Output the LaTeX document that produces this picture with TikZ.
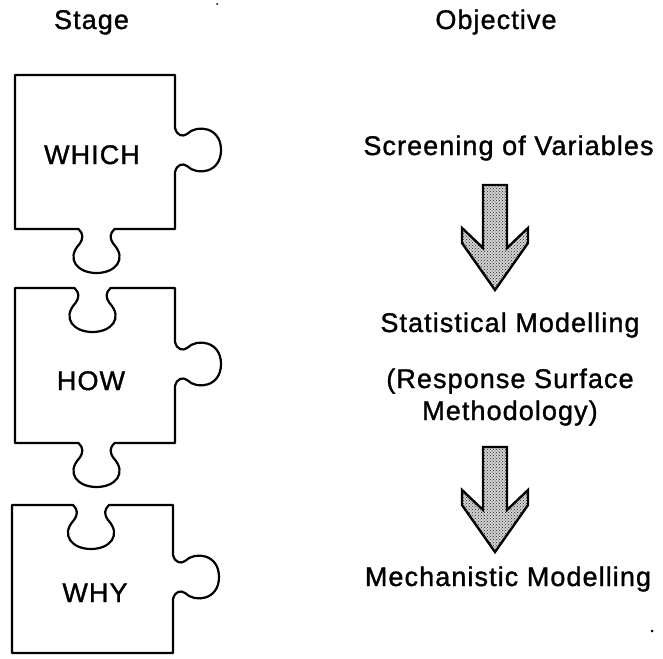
\documentclass[tikz,border=0pt]{standalone}
\usepackage{fontspec}
\setmainfont{Liberation Sans}[LetterSpace=4, FakeBold=1.2]
\usetikzlibrary{patterns}
\newcommand\rknob[2]{-- (#1,#2-22) .. controls (#1+2,#2-14) and (#1+8,#2-13) .. (#1+12,#2-16) .. controls (#1+22,#2-26) and (#1+46,#2-23) .. (#1+46,#2) .. controls (#1+46,#2+23) and (#1+22,#2+26) .. (#1+12,#2+16) .. controls (#1+8,#2+13) and (#1+2,#2+14) .. (#1,#2+22)}
\newcommand\bknob[2]{-- (#2+18,#1) .. controls (#2+13,#1+5) and (#2+13,#1+9) .. (#2+17,#1+15) .. controls (#2+31,#1+30) and (#2+19,#1+44) .. (#2,#1+44) .. controls (#2-19,#1+44) and (#2-31,#1+30) .. (#2-17,#1+15) .. controls (#2-13,#1+9) and (#2-13,#1+5) .. (#2-18,#1)}
\newcommand\tnotch[2]{-- (#2-18,#1) .. controls (#2-13,#1+5) and (#2-13,#1+9) .. (#2-17,#1+15) .. controls (#2-31,#1+30) and (#2-19,#1+44) .. (#2,#1+44) .. controls (#2+19,#1+44) and (#2+31,#1+30) .. (#2+17,#1+15) .. controls (#2+13,#1+9) and (#2+13,#1+5) .. (#2+18,#1)}
\tikzset{
  piece/.style={draw=black, line width=2.2pt, line join=round},
  blockarrow/.style={draw=black, line width=2.4pt, line join=miter, fill=gray!35, postaction={pattern=crosshatch dots, pattern color=black!85}},
  lbl/.style={anchor=base, inner sep=0pt, font=\fontsize{27}{31}\selectfont},
}
\begin{document}
\begin{tikzpicture}[x=1pt, y=-1pt]
\useasboundingbox (0,0) rectangle (663,658);
% headings
\node[lbl] (stage) at (91.5,29) {Stage};
\node[lbl] (objective) at (496,29) {Objective};
% puzzle pieces
\draw[piece] (15,75) -- (175,75) \rknob{175}{150} -- (175,229) \bknob{229}{96.5} -- (15,229) -- cycle;
\draw[piece] (15,288) \tnotch{288}{92.5} -- (175,288) \rknob{175}{364} -- (175,443) \bknob{443}{96.5} -- (15,443) -- cycle;
\draw[piece] (12,505) \tnotch{505}{91} -- (173,505) \rknob{173}{577} -- (173,653) -- (12,653) -- cycle;
\node[lbl] (which) at (92,164) {WHICH};
\node[lbl] (how) at (91,390) {HOW};
\node[lbl] (why) at (95,602) {WHY};
% objectives
\node[lbl] (screen) at (508.5,155) {Screening of Variables};
\node[lbl] (stat) at (510,332) {Statistical Modelling};
\node[lbl] (resp) at (510,388) {(Response Surface};
\node[lbl] (meth) at (510,420) {Methodology)};
\node[lbl] (mech) at (508,586) {Mechanistic Modelling};
% block arrows
\draw[blockarrow] (483,185) -- (507,185) -- (507,248) -- (528,228) -- (528,243) -- (495,290) -- (462,243) -- (462,228) -- (483,248) -- cycle;
\draw[blockarrow] (483,447) -- (507,447) -- (507,510) -- (528,490) -- (528,505) -- (495,552) -- (462,505) -- (462,490) -- (483,510) -- cycle;
% specks
\fill (652,631) circle (1.5);
\fill (217,4) circle (1);
\end{tikzpicture}
\end{document}
